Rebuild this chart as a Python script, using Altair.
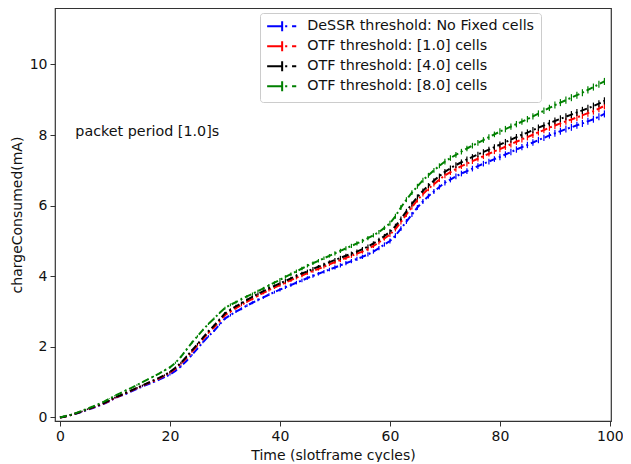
import altair as alt
import pandas as pd

cycles = list(range(100))

blue = [0.00,0.03,0.07,0.11,0.16,0.22,0.27,0.33,0.39,0.46,
        0.55,0.61,0.67,0.74,0.81,0.88,0.94,1.00,1.07,1.14,
        1.22,1.32,1.45,1.60,1.77,1.95,2.13,2.30,2.45,2.63,
        2.80,2.90,3.00,3.08,3.17,3.25,3.33,3.40,3.48,3.55,
        3.62,3.69,3.75,3.82,3.88,3.95,4.01,4.07,4.13,4.19,
        4.25,4.31,4.37,4.43,4.49,4.55,4.62,4.70,4.80,4.90,
        5.00,5.15,5.35,5.55,5.75,5.95,6.12,6.27,6.40,6.53,
        6.65,6.74,6.83,6.91,6.98,7.05,7.12,7.19,7.25,7.32,
        7.38,7.45,7.52,7.59,7.66,7.72,7.79,7.86,7.92,7.99,
        8.05,8.11,8.17,8.22,8.28,8.33,8.39,8.45,8.52,8.60]

red = [0.00,0.03,0.07,0.12,0.17,0.23,0.28,0.34,0.40,0.47,
       0.56,0.62,0.69,0.76,0.83,0.90,0.97,1.03,1.10,1.18,
       1.27,1.38,1.52,1.68,1.86,2.04,2.22,2.40,2.55,2.72,
       2.90,3.00,3.10,3.19,3.28,3.36,3.45,3.53,3.61,3.68,
       3.75,3.82,3.89,3.96,4.02,4.09,4.15,4.21,4.27,4.34,
       4.40,4.46,4.52,4.58,4.64,4.70,4.77,4.86,4.96,5.07,
       5.18,5.34,5.54,5.75,5.96,6.16,6.33,6.48,6.61,6.74,
       6.86,6.95,7.04,7.12,7.19,7.26,7.33,7.40,7.47,7.54,
       7.60,7.67,7.74,7.81,7.88,7.94,8.01,8.08,8.14,8.21,
       8.27,8.33,8.39,8.44,8.50,8.56,8.62,8.68,8.75,8.83]

black = [0.00,0.03,0.07,0.12,0.17,0.23,0.29,0.35,0.41,0.48,
         0.57,0.63,0.70,0.77,0.84,0.91,0.98,1.05,1.12,1.20,
         1.29,1.41,1.55,1.72,1.90,2.08,2.26,2.44,2.60,2.77,
         2.95,3.05,3.15,3.24,3.33,3.42,3.50,3.58,3.66,3.73,
         3.80,3.87,3.94,4.01,4.08,4.14,4.21,4.27,4.33,4.40,
         4.46,4.52,4.58,4.64,4.70,4.77,4.84,4.93,5.03,5.14,
         5.26,5.42,5.62,5.84,6.05,6.25,6.42,6.57,6.71,6.84,
         6.96,7.06,7.15,7.23,7.31,7.38,7.45,7.52,7.59,7.66,
         7.73,7.80,7.87,7.94,8.01,8.07,8.14,8.21,8.27,8.34,
         8.40,8.46,8.52,8.58,8.64,8.70,8.76,8.82,8.89,8.97]

green = [0.00,0.04,0.08,0.13,0.19,0.25,0.31,0.38,0.45,0.53,
         0.62,0.69,0.77,0.84,0.92,1.00,1.08,1.16,1.24,1.33,
         1.42,1.55,1.72,1.92,2.12,2.30,2.48,2.65,2.80,2.96,
         3.10,3.19,3.27,3.35,3.43,3.50,3.58,3.66,3.74,3.82,
         3.90,3.98,4.06,4.14,4.22,4.30,4.37,4.44,4.51,4.58,
         4.65,4.72,4.79,4.86,4.93,5.00,5.08,5.16,5.25,5.37,
         5.50,5.70,5.95,6.17,6.37,6.55,6.72,6.86,7.00,7.13,
         7.25,7.35,7.44,7.53,7.62,7.70,7.78,7.86,7.94,8.02,
         8.10,8.17,8.24,8.31,8.38,8.45,8.53,8.61,8.69,8.77,
         8.85,8.92,8.99,9.06,9.13,9.20,9.28,9.36,9.44,9.52]

# half-length of the error bars (same for all series)
err = [0.00,0.00,0.01,0.01,0.01,0.01,0.01,0.01,0.01,0.01,
       0.02,0.02,0.02,0.02,0.02,0.02,0.02,0.02,0.02,0.02,
       0.03,0.03,0.03,0.03,0.03,0.03,0.03,0.03,0.03,0.03,
       0.04,0.04,0.04,0.04,0.04,0.04,0.04,0.04,0.04,0.04,
       0.05,0.05,0.05,0.05,0.05,0.05,0.05,0.05,0.05,0.05,
       0.06,0.06,0.06,0.06,0.06,0.06,0.06,0.06,0.06,0.06,
       0.07,0.07,0.07,0.07,0.07,0.07,0.07,0.07,0.07,0.07,
       0.08,0.08,0.08,0.08,0.08,0.08,0.08,0.08,0.08,0.08,
       0.09,0.09,0.09,0.09,0.09,0.09,0.09,0.09,0.09,0.09,
       0.10,0.10,0.10,0.10,0.10,0.10,0.10,0.10,0.10,0.10]

series_names = ["DeSSR threshold: No Fixed cells",
                "OTF threshold: [1.0] cells",
                "OTF threshold: [4.0] cells",
                "OTF threshold: [8.0] cells"]
series_colors = ["#0000ff", "#ff0000", "#000000", "#008000"]
series_values = [blue, red, black, green]

annotation = "packet period [1.0]s"
annot_x = 2.8
annot_y = 8.1

rows = []
for k, (name, vals) in enumerate(zip(series_names, series_values)):
    for c, v, e in zip(cycles, vals, err):
        rows.append({"cycle": c, "charge": v, "lo": v - e, "hi": v + e,
                     "series": name, "k": k})
df = pd.DataFrame(rows)

xscale = alt.Scale(domain=[-0.9, 100.2], nice=False, zero=False)
yscale = alt.Scale(domain=[-0.1, 11.6], nice=False, zero=False)

# line with an error-bar tick, then dash-dot tail (symbol drawn 30px wide)
legend_symbol = "M-2.5,0L0.05,0M0,-0.83L0,0.83M0.5,0L0.85,0M1.65,0L2.35,0"

color_scale = alt.Scale(domain=series_names, range=series_colors)
legend = alt.Legend(
    title=None, orient="none", legendX=205, legendY=5,
    symbolType=legend_symbol, symbolSize=144, symbolOffset=9, symbolStrokeWidth=2,
    symbolFillColor="transparent",
    labelFontSize=14.3, labelFont="DejaVu Sans", labelColor="#111",
    strokeColor="#cccccc", fillColor="white", padding=6,
    cornerRadius=3, rowPadding=1, labelOffset=18, labelLimit=400,
)
color = alt.Color("series:N", scale=color_scale, sort=series_names, legend=legend)

base = alt.Chart(df)

lines = base.mark_line(strokeWidth=2, strokeDash=[7, 3, 2, 3]).encode(
    x=alt.X("cycle:Q", scale=xscale,
            axis=alt.Axis(title="Time (slotframe cycles)", values=[0, 20, 40, 60, 80, 100])),
    y=alt.Y("charge:Q", scale=yscale,
            axis=alt.Axis(title="chargeConsumed(mA)", values=[0, 2, 4, 6, 8, 10])),
    color=color,
    detail="k:O",
    order=alt.Order("cycle:Q"),
)

bars = base.mark_rule(strokeWidth=1.2).encode(
    x="cycle:Q",
    y="lo:Q",
    y2="hi:Q",
    color=color,
)

text = alt.Chart(pd.DataFrame({"x": [annot_x], "y": [annot_y], "t": [annotation]})).mark_text(
    align="left", baseline="middle", fontSize=14.3, font="DejaVu Sans", color="#111"
).encode(x="x:Q", y="y:Q", text="t:N")

chart = alt.layer(bars, lines, text).properties(
    width=556, height=413,
    autosize=alt.AutoSizeParams(type="none"),
    padding={"left": 47, "top": 0, "right": 12, "bottom": 41},
).configure_view(stroke="#333", strokeWidth=1.2).configure_axis(
    domain=False, grid=False, tickColor="#333", tickSize=5,
    labelFont="DejaVu Sans", labelFontSize=14, labelColor="#111", labelPadding=3,
    titleFont="DejaVu Sans", titleFontSize=14, titleFontWeight="normal", titleColor="#111",
).configure_axisY(titlePadding=5).configure_axisX(titlePadding=5)

chart.save("out.html", embed_options={"renderer": "svg", "actions": False})
